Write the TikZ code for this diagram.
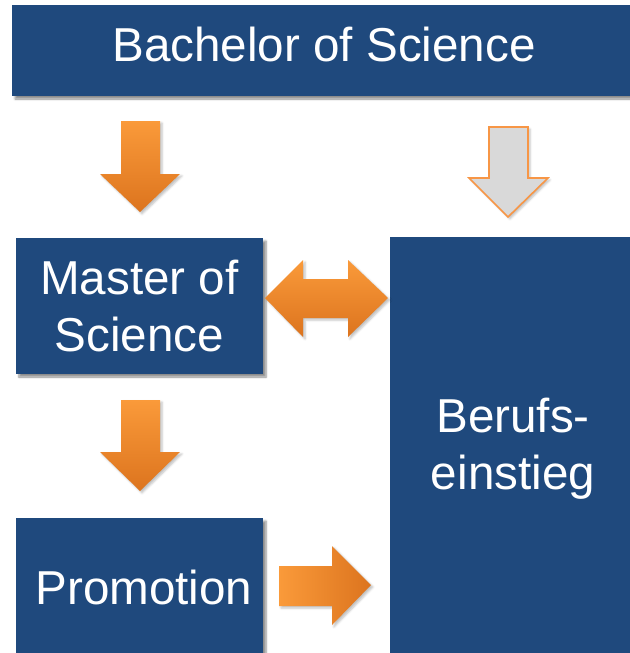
\documentclass[tikz,border=0pt]{standalone}
\usepackage{fontspec}
\setmainfont{Liberation Sans}
\usetikzlibrary{shadows.blur}
\definecolor{boxblue}{RGB}{31,73,125}
\definecolor{orL}{RGB}{250,154,58}
\definecolor{orD}{RGB}{220,116,30}
\definecolor{arrgrey}{RGB}{217,217,217}
\definecolor{arredge}{RGB}{247,150,70}
\begin{document}
\begin{tikzpicture}[x=1pt,y=-1pt,
  box/.style={fill=boxblue, text=white, inner sep=0pt, align=center,
    font=\fontsize{47.6}{57}\selectfont,
    blur shadow={shadow xshift=3pt, shadow yshift=-3pt, shadow blur steps=6, shadow opacity=45}},
  vorange/.style={top color=orL, bottom color=orD, draw=none,
    blur shadow={shadow xshift=2pt, shadow yshift=-2pt, shadow blur steps=4, shadow opacity=25}},
  horange/.style={left color=orL, right color=orD, draw=none,
    blur shadow={shadow xshift=2pt, shadow yshift=-2pt, shadow blur steps=4, shadow opacity=25}},
  greyarrow/.style={fill=arrgrey, draw=arredge, line width=1.6pt, line join=miter,
    blur shadow={shadow xshift=2pt, shadow yshift=-2pt, shadow blur steps=4, shadow opacity=25}}
]
\useasboundingbox (0,0) rectangle (629,653);
\node[box, minimum width=624pt, minimum height=91pt, text height=34pt, text depth=12pt] (bach) at (324,50.5) {Bachelor of Science};
\node[box, minimum width=247pt, minimum height=136pt] (master) at (139.5,306) {Master of\\Science};
\node[box, minimum width=247pt, minimum height=138pt] (promo) at (139.5,587) {\hspace*{9pt}Promotion};
\node[box, minimum width=246pt, minimum height=423pt] (beruf) at (513,448.5) {Berufs-\\einstieg};
% arrows
\path[vorange] (121,121) -- (160,121) -- (160,174) -- (180,174) -- (140,212) -- (100,174) -- (121,174) -- cycle;
\path[vorange] (121,400) -- (160,400) -- (160,452) -- (180,452) -- (140,491) -- (100,452) -- (121,452) -- cycle;
\path[greyarrow] (489,127) -- (528,127) -- (528,178) -- (548,178) -- (508,217) -- (469,178) -- (489,178) -- cycle;
\path[vorange] (265,298) -- (303,260) -- (303,279) -- (348,279) -- (348,260) -- (388,298) -- (348,337) -- (348,318) -- (303,318) -- (303,337) -- cycle;
\path[horange] (279,566) -- (332,566) -- (332,546) -- (371,585) -- (332,625) -- (332,606) -- (279,606) -- cycle;
\end{tikzpicture}
\end{document}
